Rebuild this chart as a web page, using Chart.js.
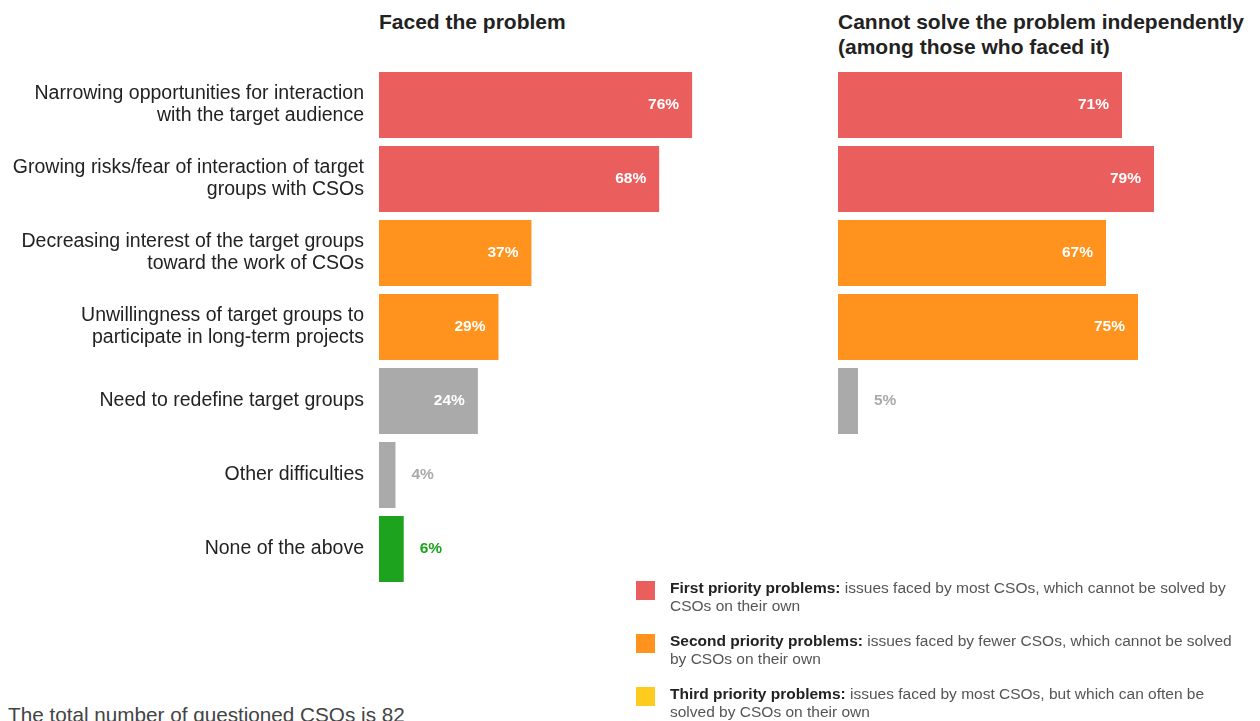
<!DOCTYPE html>
<html>
<head>
  <title>CSO problems with target groups</title>
  <script src="https://cdn.jsdelivr.net/npm/chart.js"></script>
  <style>
    body { margin: 0; background: #fff; font-family: "Liberation Sans", Arial, Helvetica, sans-serif; width: 1260px; height: 721px; overflow: hidden; position: relative; }
    .title { position: absolute; font-weight: bold; font-size: 21px; color: #222; line-height: 25px; }
    canvas { position: absolute; }
    .legend { position: absolute; left: 636px; width: 600px; font-size: 15.5px; color: #555; line-height: 18px; }
    .legend .row { position: relative; padding-left: 34px; height: 53px; }
    .legend .sw { position: absolute; left: 0; top: 2px; width: 19px; height: 19px; }
    .legend b { color: #222; }
    .note { position: absolute; left: 8px; top: 703px; font-size: 20.7px; color: #444; white-space: nowrap; }
  </style>
</head>
<body>
  <div class="title" style="left:379px; top:9px;">Faced the problem</div>
  <div class="title" style="left:838px; top:9px;">Cannot solve the problem independently<br>(among those who faced it)</div>

  <canvas id="faced" width="791" height="518" style="left:0; top:68px;"></canvas>
  <canvas id="unsolved" width="400" height="370" style="left:838px; top:68px;"></canvas>

  <div class="legend" style="top:579px;">
    <div class="row"><span class="sw" style="background:#EB5E5E"></span><b>First priority problems:</b> issues faced by most CSOs, which cannot be solved by CSOs on their own</div>
    <div class="row"><span class="sw" style="background:#FF931E"></span><b>Second priority problems:</b> issues faced by fewer CSOs, which cannot be solved by CSOs on their own</div>
    <div class="row"><span class="sw" style="background:#FFCB1F"></span><b>Third priority problems:</b> issues faced by most CSOs, but which can often be solved by CSOs on their own</div>
  </div>

  <div class="note">The total number of questioned CSOs is 82</div>

  <script>
    const problems = [
      ['Narrowing opportunities for interaction', 'with the target audience'],
      ['Growing risks/fear of interaction of target', 'groups with CSOs'],
      ['Decreasing interest of the target groups', 'toward the work of CSOs'],
      ['Unwillingness of target groups to', 'participate in long-term projects'],
      'Need to redefine target groups',
      'Other difficulties',
      'None of the above'
    ];
    const facedValues = [76, 68, 37, 29, 24, 4, 6];
    const unsolvedValues = [71, 79, 67, 75, 5];
    const priority = ['first', 'first', 'second', 'second', 'none', 'none', 'neutral'];

    const colors = { first: '#EB5E5E', second: '#FF931E', none: '#AAAAAA', neutral: '#1DA31D' };
    const font = '"Liberation Sans", Arial, Helvetica, sans-serif';

    // percentage labels: white inside long bars, bar-coloured next to short ones
    const valueLabels = {
      id: 'valueLabels',
      afterDatasetsDraw(chart) {
        const ctx = chart.ctx;
        const ds = chart.data.datasets[0];
        chart.getDatasetMeta(0).data.forEach((bar, i) => {
          const v = ds.data[i];
          if (v == null) return;
          ctx.save();
          ctx.font = 'bold 15.5px ' + font;
          ctx.textBaseline = 'middle';
          if (v >= 20) {
            ctx.fillStyle = '#fff';
            ctx.textAlign = 'right';
            ctx.fillText(v + '%', bar.x - 13, bar.y);
          } else {
            ctx.fillStyle = ds.backgroundColor[i];
            ctx.textAlign = 'left';
            ctx.fillText(v + '%', bar.x + 16, bar.y);
          }
          ctx.restore();
        });
      }
    };

    function barChart(id, labels, values, showLabels) {
      const yAxis = {
        display: showLabels,
        grid: { display: false, drawTicks: false },
        border: { display: false },
        ticks: {
          padding: 15,
          autoSkip: false,
          color: '#222',
          font: { family: font, size: 19.5, lineHeight: 1.13 }
        }
      };
      if (showLabels) {
        // fixed label column so the bars start at the same x in both panels' layout
        yAxis.afterFit = scale => {
          scale.width = 379;
          scale.paddingTop = 0;
          scale.paddingBottom = 0;
        };
      }
      return new Chart(document.getElementById(id), {
        type: 'bar',
        data: {
          labels,
          datasets: [{
            data: values,
            backgroundColor: values.map((v, i) => colors[priority[i]]),
            categoryPercentage: 1,
            barPercentage: 0.892
          }]
        },
        options: {
          indexAxis: 'y',
          responsive: false,
          animation: false,
          devicePixelRatio: 1,
          layout: { padding: 0 },
          plugins: { legend: { display: false }, tooltip: { enabled: false } },
          scales: {
            x: { display: false, min: 0, max: 100 },
            y: yAxis
          }
        },
        plugins: [valueLabels]
      });
    }

    barChart('faced', problems, facedValues, true);
    barChart('unsolved', problems.slice(0, 5), unsolvedValues, false);
  </script>
</body>
</html>
